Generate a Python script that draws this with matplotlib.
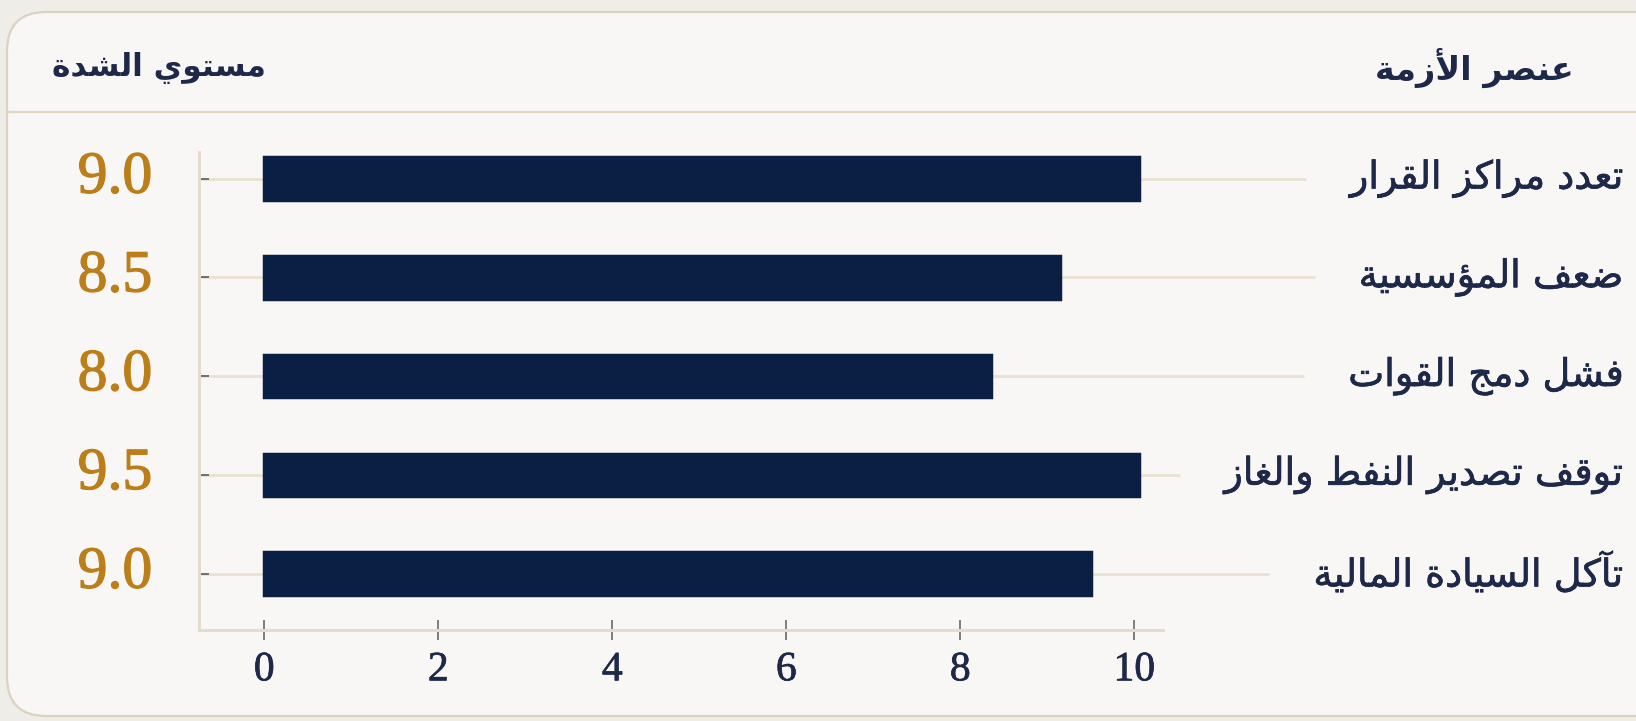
import matplotlib
matplotlib.use("Agg")
import matplotlib.pyplot as plt
from matplotlib.patches import FancyBboxPatch
from matplotlib.lines import Line2D
import matplotlib.transforms as mtransforms
import matplotlib.patheffects as pe

# ---------------- data ----------------
categories = ["تعدد مراكز القرار", "ضعف المؤسسية", "فشل دمج القوات",
              "توقف تصدير النفط والغاز", "تآكل السيادة المالية"]
bar_values = [10.05, 9.15, 8.35, 10.05, 9.5]
severity_labels = ["9.0", "8.5", "8.0", "9.5", "9.0"]
x_ticks = [0, 2, 4, 6, 8, 10]
header_left = "مستوي الشدة"
header_right = "عنصر الأزمة"

# ---------------- minimal Arabic shaping (matplotlib has no text shaping) ----------------
TWO = {'\u0622': 0xFE81, '\u0623': 0xFE83, '\u0624': 0xFE85, '\u0625': 0xFE87,
       '\u0627': 0xFE8D, '\u0629': 0xFE93, '\u062F': 0xFEA9, '\u0630': 0xFEAB,
       '\u0631': 0xFEAD, '\u0632': 0xFEAF, '\u0648': 0xFEED, '\u0649': 0xFEEF}
FOUR = {'\u0626': 0xFE89, '\u0628': 0xFE8F, '\u062A': 0xFE95, '\u062B': 0xFE99,
        '\u062C': 0xFE9D, '\u062D': 0xFEA1, '\u062E': 0xFEA5, '\u0633': 0xFEB1,
        '\u0634': 0xFEB5, '\u0635': 0xFEB9, '\u0636': 0xFEBD, '\u0637': 0xFEC1,
        '\u0638': 0xFEC5, '\u0639': 0xFEC9, '\u063A': 0xFECD, '\u0641': 0xFED1,
        '\u0642': 0xFED5, '\u0643': 0xFED9, '\u0644': 0xFEDD, '\u0645': 0xFEE1,
        '\u0646': 0xFEE5, '\u0647': 0xFEE9, '\u064A': 0xFEF1}
LAMALEF = {'\u0622': ('\uFEF5', '\uFEF6'), '\u0623': ('\uFEF7', '\uFEF8'),
           '\u0625': ('\uFEF9', '\uFEFA'), '\u0627': ('\uFEFB', '\uFEFC')}
HAMZA = {'\u0621': '\uFE80'}


def shape(text):
    chars = list(text)
    tokens = []
    i = 0
    while i < len(chars):
        c = chars[i]
        if c == '\u0644' and i + 1 < len(chars) and chars[i + 1] in LAMALEF:
            tokens.append(('LA', chars[i + 1]))
            i += 2
        else:
            tokens.append((c, None))
            i += 1
    out = []
    for k, (c, extra) in enumerate(tokens):
        prev = tokens[k - 1][0] if k > 0 else None
        nxt = tokens[k + 1][0] if k + 1 < len(tokens) else None
        prev_joins = prev is not None and prev in FOUR
        next_ok = nxt is not None and (nxt in FOUR or nxt in TWO or nxt == 'LA')
        if c == 'LA':
            iso, fin = LAMALEF[extra]
            out.append(fin if prev_joins else iso)
        elif c in FOUR:
            b = FOUR[c]
            if prev_joins and next_ok:
                out.append(chr(b + 3))
            elif prev_joins:
                out.append(chr(b + 1))
            elif next_ok:
                out.append(chr(b + 2))
            else:
                out.append(chr(b))
        elif c in TWO:
            b = TWO[c]
            out.append(chr(b + 1) if prev_joins else chr(b))
        elif c in HAMZA:
            out.append(HAMZA[c])
        else:
            out.append(c)
    return ''.join(reversed(out))


# ---------------- style ----------------
W, H, DPI = 1636, 721, 100
NAVY = "#0b1f45"
TEXT_NAVY = "#1e2848"
GOLD = "#bb7e18"
BEIGE = "#e6dccb"
LEADER = "#ebe1d2"
AR_FONT = ["DejaVu Sans"]
NUM_FONT = ["Liberation Serif", "DejaVu Serif"]

fig = plt.figure(figsize=(W / DPI, H / DPI), dpi=DPI)
fig.patch.set_facecolor("#efede8")


def px(x, y):
    return x / W, 1 - y / H


panel = FancyBboxPatch(px(7, 716), (1700 - 7) / W, (716 - 12) / H,
                       boxstyle="round,pad=0,rounding_size=0.024",
                       transform=fig.transFigure, facecolor="#f8f7f5",
                       edgecolor="#ddd2c0", linewidth=1.6, zorder=-10,
                       mutation_aspect=W / H)
fig.patches.append(panel)
fig.add_artist(Line2D([7 / W, 1], [1 - 112 / H] * 2, transform=fig.transFigure,
                      color="#e3d8c6", linewidth=1.6, zorder=-9))

# headers
fig.text(159 / W, 1 - 68 / H, shape(header_left), ha="center", va="center",
         fontsize=22.5, fontweight="bold", color=TEXT_NAVY, family=AR_FONT)
fig.text(1474 / W, 1 - 68 / H, shape(header_right), ha="center", va="center",
         fontsize=24, fontweight="bold", color=TEXT_NAVY, family=AR_FONT)

# axes
ax_left, ax_right, ax_top, ax_bottom = 199, 1163, 152, 630
ax = fig.add_axes([ax_left / W, 1 - ax_bottom / H, (ax_right - ax_left) / W,
                   (ax_bottom - ax_top) / H])
ax.set_zorder(5)
ax.set_facecolor("none")
ypos = list(range(len(categories)))
ax.barh(ypos, bar_values, height=0.43, color=NAVY, edgecolor=NAVY,
        linewidth=2.5, zorder=3)
ax.set_xlim(-0.75, 10.33)
ax.set_ylim(4.57, -0.27)
ax.set_xticks(x_ticks)
ax.set_xticklabels([str(t) for t in x_ticks], fontsize=30, color=TEXT_NAVY,
                   family=NUM_FONT)
for tl in ax.get_xticklabels():
    tl.set_path_effects([pe.withStroke(linewidth=0.5, foreground=TEXT_NAVY)])
ax.set_yticks(ypos)
ax.set_yticklabels([])
ax.tick_params(axis="x", direction="inout", length=14, width=1.4, color="#7d7d7d", pad=8)
ax.tick_params(axis="y", direction="in", length=7, width=1.4, color="#6f6f6f")
for s in ["top", "right"]:
    ax.spines[s].set_visible(False)
for s in ["left", "bottom"]:
    ax.spines[s].set_color(BEIGE)
    ax.spines[s].set_linewidth(2.2)

# category labels and severity labels
lab_tr = mtransforms.blended_transform_factory(fig.transFigure, ax.transData)
label_artists = []
for y, cat, sev in zip(ypos, categories, severity_labels):
    t = ax.text(1624 / W, y, shape(cat), transform=lab_tr, ha="right",
                va="center", fontsize=27.5, color=TEXT_NAVY, family=AR_FONT,
                path_effects=[pe.withStroke(linewidth=0.5, foreground=TEXT_NAVY)])
    label_artists.append(t)
    ax.text(115 / W, y, sev, transform=lab_tr, ha="center", va="center",
            fontsize=43, color=GOLD, family=NUM_FONT,
            path_effects=[pe.withStroke(linewidth=0.9, foreground=GOLD)])

# leader lines from the y axis to each label
fig.canvas.draw()
renderer = fig.canvas.get_renderer()
inv = ax.transData.inverted()
for y, t in zip(ypos, label_artists):
    bb = t.get_window_extent(renderer)
    x_end = inv.transform((bb.x0 - 44, 0))[0]
    ax.plot([ax.get_xlim()[0], x_end], [y, y], color=LEADER, linewidth=2,
            zorder=1, clip_on=False, solid_capstyle="butt")

fig.savefig("out.png", dpi=DPI, facecolor=fig.get_facecolor())
